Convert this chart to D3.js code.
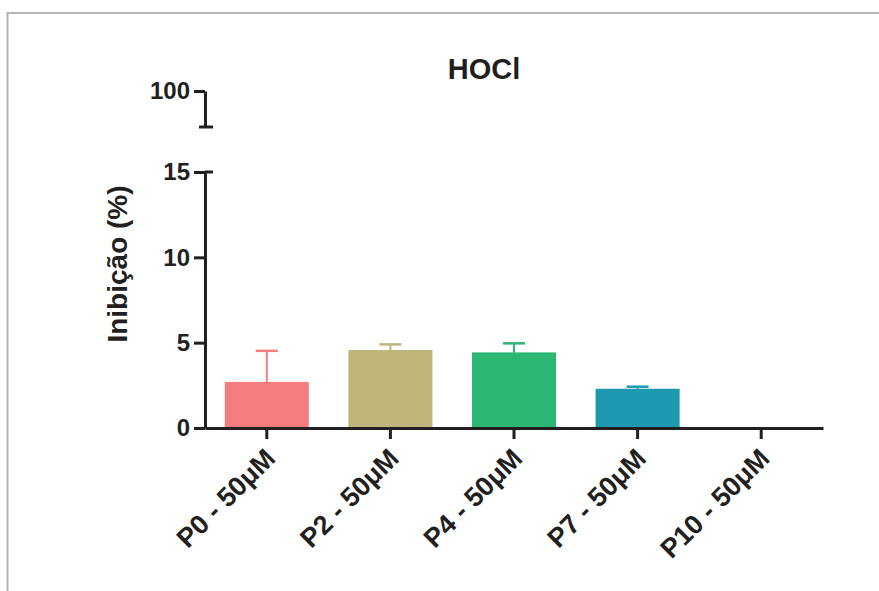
<!DOCTYPE html>
<html lang="pt">
<head>
<meta charset="UTF-8">
<title>HOCl</title>
<script src="https://cdnjs.cloudflare.com/ajax/libs/d3/7.8.5/d3.min.js"></script>
<style>
  body { margin: 0; background: #fff; overflow: hidden; }
  svg { display: block; font-family: "Liberation Sans", Arial, sans-serif; font-weight: bold; }
  .axis path, .axis line { stroke: #231f20; stroke-width: 3; }
  .axis text { fill: #231f20; font-size: 24px; font-weight: bold; }
  .xaxis text { font-size: 27px; }
</style>
</head>
<body>
<svg id="chart" width="879" height="591"></svg>
<script>
  // data
  const categories = ["P0 - 50μM", "P2 - 50μM", "P4 - 50μM", "P7 - 50μM", "P10 - 50μM"];
  const means = [2.7, 4.57, 4.43, 2.3, 0];
  const errors = [1.82, 0.33, 0.53, 0.12, 0];
  const barColors = ["#f47c7c", "#bfb57a", "#2bb673", "#1e9ab0", "#999999"];
  const lowTicks = [0, 5, 10, 15];
  const highTicks = [100];

  const svg = d3.select("#chart");
  const ink = "#231f20";

  // outer frame (only top and left edges visible)
  svg.append("path")
    .attr("d", "M7.5,591 L7.5,13 L879,13")
    .attr("fill", "none")
    .attr("stroke", "#b3b3bb")
    .attr("stroke-width", 2);

  const x = d3.scaleBand().domain(categories).range([205, 823])
    .paddingInner(0.32).paddingOuter(0.16);
  const yLow = d3.scaleLinear().domain([0, 15]).range([428, 172]);
  const yHigh = d3.scaleLinear().domain([80, 100]).range([127, 91]);

  // bars
  svg.selectAll(".bar")
    .data(categories)
    .enter().append("rect")
    .attr("class", "bar")
    .attr("x", d => x(d))
    .attr("width", x.bandwidth())
    .attr("y", (d, i) => yLow(means[i]))
    .attr("height", (d, i) => yLow(0) - yLow(means[i]))
    .attr("fill", (d, i) => barColors[i]);

  // error bars (upper only)
  const eb = svg.selectAll(".err")
    .data(categories.filter((d, i) => errors[i] > 0))
    .enter().append("g")
    .attr("class", "err");
  eb.append("line")
    .attr("x1", d => x(d) + x.bandwidth() / 2)
    .attr("x2", d => x(d) + x.bandwidth() / 2)
    .attr("y1", d => yLow(means[categories.indexOf(d)]))
    .attr("y2", d => { const i = categories.indexOf(d); return yLow(means[i] + errors[i]); })
    .attr("stroke", d => barColors[categories.indexOf(d)])
    .attr("stroke-width", 2);
  eb.append("line")
    .attr("x1", d => x(d) + x.bandwidth() / 2 - 11)
    .attr("x2", d => x(d) + x.bandwidth() / 2 + 11)
    .attr("y1", d => { const i = categories.indexOf(d); return yLow(means[i] + errors[i]); })
    .attr("y2", d => { const i = categories.indexOf(d); return yLow(means[i] + errors[i]); })
    .attr("stroke", d => barColors[categories.indexOf(d)])
    .attr("stroke-width", 2.5);

  // x axis
  const gx = svg.append("g")
    .attr("class", "axis xaxis")
    .attr("transform", `translate(0,${yLow(0)})`)
    .call(d3.axisBottom(x).tickSize(11).tickSizeOuter(0));
  gx.selectAll("text")
    .attr("text-anchor", "end")
    .attr("dy", null)
    .attr("y", 0)
    .attr("transform", "translate(10,32) rotate(-45)");

  // y axis, lower segment
  svg.append("g")
    .attr("class", "axis")
    .attr("transform", "translate(205,0)")
    .call(d3.axisLeft(yLow).tickValues(lowTicks).tickSize(11).tickSizeOuter(0).tickPadding(4));

  // y axis, upper segment
  svg.append("g")
    .attr("class", "axis")
    .attr("transform", "translate(205,0)")
    .call(d3.axisLeft(yHigh).tickValues(highTicks).tickSize(11).tickSizeOuter(0).tickPadding(4));

  // break caps
  svg.append("line")
    .attr("x1", 199).attr("x2", 213)
    .attr("y1", yHigh.range()[0]).attr("y2", yHigh.range()[0])
    .attr("stroke", ink).attr("stroke-width", 3);
  svg.append("line")
    .attr("x1", 205).attr("x2", 213)
    .attr("y1", yLow(15)).attr("y2", yLow(15))
    .attr("stroke", ink).attr("stroke-width", 3);

  // title
  svg.append("text")
    .attr("x", 484).attr("y", 79)
    .attr("text-anchor", "middle")
    .attr("font-size", 29)
    .attr("fill", ink)
    .text("HOCl");

  // y label
  svg.append("text")
    .attr("transform", "translate(127,264) rotate(-90)")
    .attr("text-anchor", "middle")
    .attr("font-size", 28)
    .attr("fill", ink)
    .text("Inibição (%)");
</script>
</body>
</html>
